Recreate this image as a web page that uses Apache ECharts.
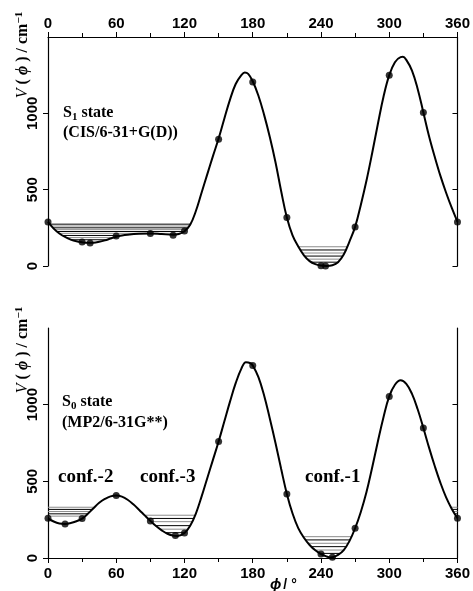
<!DOCTYPE html>
<html><head><meta charset="utf-8">
<script src="https://cdn.jsdelivr.net/npm/echarts@6/dist/echarts.min.js"></script>
<style>html,body{margin:0;padding:0;background:#fff}#c{width:473px;height:591px}</style>
</head><body><div id="c"></div>
<script>
// ---------- data ----------
const phiTicks = [0, 60, 120, 180, 240, 300, 360];
const energyTicks = [0, 500, 1000];

// S1 state: computed points
const s1Phi = [0, 30, 37, 60, 90, 110, 120, 150, 180, 210, 240, 244, 270, 300, 330, 360];
const s1V   = [289, 158, 150, 196, 213, 202, 230, 830, 1206, 317, 2, 0, 256, 1250, 1006, 289];
// S1 fitted curve
const s1CurvePhi = [0,5,10,15,20,25,30,35,40,45,50,55,60,65,70,80,90,100,110,115,120,125,130,135,140,145,150,155,160,165,170,173,176,180,185,190,195,200,205,210,215,220,225,230,235,240,245,250,255,260,265,270,275,280,285,290,295,300,305,310,312,315,320,325,330,335,340,345,350,355,360];
const s1CurveV   = [289,245,213,190,173,162,156,152,153,159,168,180,192,200,205,211,213,209,205,210,228,270,360,480,600,720,835,965,1090,1192,1250,1267,1258,1210,1115,990,845,680,490,317,200,128,70,32,12,3,0,5,25,75,160,256,400,560,740,930,1110,1250,1335,1368,1370,1350,1280,1160,1006,850,715,590,480,380,289];
// S1 torsional levels
const s1WellAV    = [274, 262, 250, 238, 226, 214, 200, 186, 172];
const s1WellAFrom = [1.6, 3, 4.4, 6.1, 8, 9.9, 13, 16.2, 20];
const s1WellATo   = [125.4, 124, 122.6, 121.2, 119.5, 116, 65, 57.3, 50.9];
const s1WellBV    = [126, 105, 85, 65, 45, 25];
const s1WellBFrom = [220.1, 222, 223.7, 225.7, 228.3, 231.8];
const s1WellBTo   = [263, 261.8, 260.6, 259, 257, 255];

// S0 state: computed points
const s0Phi = [0, 15, 30, 60, 90, 112, 120, 150, 180, 210, 240, 250, 270, 300, 330, 360];
const s0V   = [259, 222, 257, 407, 242, 146, 163, 760, 1255, 418, 26, 5, 194, 1054, 848, 259];
// S0 fitted curve
const s0CurvePhi = [0,5,10,15,20,25,30,35,40,45,50,55,60,65,70,75,80,85,90,95,100,105,110,114,120,125,130,135,140,145,150,155,160,165,170,174,178,180,185,190,195,200,205,210,215,220,225,230,235,240,245,248,250,255,260,265,270,275,280,285,290,295,300,305,310,315,320,325,330,335,340,345,350,355,360];
const s0CurveV   = [259,238,225,222,228,240,257,288,325,360,385,402,407,400,380,350,315,278,242,208,180,158,146,144,163,210,290,400,520,640,760,890,1020,1140,1235,1277,1270,1255,1180,1060,910,750,580,418,290,195,132,85,50,26,10,4,5,20,52,110,194,300,430,590,760,920,1054,1130,1159,1135,1070,970,848,720,600,490,395,320,259];
// S0 torsional levels
const s0Conf2V     = [331, 317, 303, 288, 273];
const s0Conf2To    = [40.9, 38.9, 37, 35, 32.8];
const s0Conf2WrapFrom = [354.3, 355.2, 356.4, 357.6, 358.9];
const s0Conf3V     = [279, 258, 237, 211, 188, 165];
const s0Conf3From  = [85, 87.8, 90.7, 94.6, 98.6, 103.4];
const s0Conf3To    = [129.3, 128, 126.7, 125.1, 122.7, 120.2];
const s0Conf1V     = [139, 118, 96, 74, 52, 30];
const s0Conf1From  = [224.4, 226.5, 228.8, 231.6, 234.7, 238.3];
const s0Conf1To    = [266.7, 265.5, 263.8, 261.9, 260, 256.7];

// ---------- chart ----------
const SANS = '"Liberation Sans", Arial, sans-serif';
const SERIF = '"Liberation Serif", "Times New Roman", serif';
const BLACK = '#000';
const GREY = '#8c8c8c';

function zip(a, b) { return a.map((v, i) => [v, b[i]]); }

function levelSeries(gi, vals, from, to, startBlack) {
  return vals.map((v, i) => ({
    type: 'line', xAxisIndex: gi, yAxisIndex: gi * 2, silent: true, z: 1,
    symbol: 'none', animation: false,
    lineStyle: { width: 1, color: ((i % 2 === 0) === startBlack) ? BLACK : GREY },
    data: [[from[i], v], [to[i], v]]
  }));
}

function xAxis(gi, pos, margin) {
  return {
    type: 'value', gridIndex: gi, position: pos, min: 0, max: 360, interval: 60,
    axisLine: { show: true, onZero: false, lineStyle: { color: BLACK, width: 1.2 } },
    axisTick: { show: true, inside: false, length: 5, lineStyle: { color: BLACK } },
    minorTick: { show: true, splitNumber: 2, length: 4, lineStyle: { color: BLACK } },
    splitLine: { show: false }, minorSplitLine: { show: false },
    axisLabel: { show: true, margin: margin, color: BLACK, fontFamily: SANS, fontWeight: 'bold', fontSize: 15,
      customValues: phiTicks, formatter: v => String(v) }
  };
}
function yAxisLeft(gi) {
  return {
    type: 'value', gridIndex: gi, position: 'left', min: 0, max: 1500, interval: 500,
    axisLine: { show: true, onZero: false, lineStyle: { color: BLACK, width: 1.2 } },
    axisTick: { show: true, inside: false, length: 5, customValues: energyTicks, lineStyle: { color: BLACK } },
    splitLine: { show: false },
    axisLabel: { show: true, rotate: 90, margin: 8, color: BLACK, fontFamily: SANS, fontWeight: 'bold', fontSize: 15,
      customValues: energyTicks, formatter: v => String(v) }
  };
}
function yAxisRight(gi) {
  return {
    type: 'value', gridIndex: gi, position: 'right', min: 0, max: 1500, interval: 500,
    axisLine: { show: true, onZero: false, lineStyle: { color: BLACK, width: 1.2 } },
    axisTick: { show: true, inside: true, length: 5, customValues: energyTicks, lineStyle: { color: BLACK } },
    splitLine: { show: false }, axisLabel: { show: false }
  };
}

const nameRich = {
  v:   { fontFamily: SERIF, fontStyle: 'italic', fontSize: 16, lineHeight: 18, fill: BLACK, color: BLACK },
  n:   { fontFamily: SERIF, fontWeight: 'bold', fontSize: 16, lineHeight: 18, fill: BLACK, color: BLACK },
  phi: { fontFamily: SERIF, fontWeight: 'bold', fontStyle: 'italic', fontSize: 16, lineHeight: 18, fill: BLACK, color: BLACK },
  sup: { fontFamily: SERIF, fontWeight: 'bold', fontSize: 11, lineHeight: 10, padding: [0, 0, 8, 0], fill: BLACK, color: BLACK }
};
const stateRich = {
  b:   { fontFamily: SERIF, fontWeight: 'bold', fontSize: 16, lineHeight: 20, fill: BLACK, color: BLACK },
  sub: { fontFamily: SERIF, fontWeight: 'bold', fontSize: 11, lineHeight: 12, padding: [8, 0, 0, 0], fill: BLACK, color: BLACK }
};

function yName(x, y) {
  return { type: 'text', x: x, y: y, rotation: Math.PI / 2, z: 10,
    style: { text: '{v|V}{n| ( }{phi|ϕ}{n| ) / cm}{sup|−1}', rich: nameRich,
      align: 'center', verticalAlign: 'middle', textAlign: 'center', textVerticalAlign: 'middle', fill: BLACK } };
}
function plainText(x, y, text, size, family) {
  return { type: 'text', x: x, y: y, z: 10,
    style: { text: text, fill: BLACK, font: 'bold ' + size + 'px ' + family,
      align: 'left', verticalAlign: 'middle', textAlign: 'left', textVerticalAlign: 'middle' } };
}
function richText(x, y, text) {
  return { type: 'text', x: x, y: y, z: 10,
    style: { text: text, rich: stateRich, fill: BLACK,
      align: 'left', verticalAlign: 'middle', textAlign: 'left', textVerticalAlign: 'middle' } };
}

const series = [].concat(
  levelSeries(0, s1WellAV, s1WellAFrom, s1WellATo, true),
  levelSeries(0, s1WellBV, s1WellBFrom, s1WellBTo, false),
  levelSeries(1, s0Conf2V, s0Conf2V.map(() => 0), s0Conf2To, false),
  levelSeries(1, s0Conf2V, s0Conf2WrapFrom, s0Conf2V.map(() => 360), false),
  levelSeries(1, s0Conf3V, s0Conf3From, s0Conf3To, false),
  levelSeries(1, s0Conf1V, s0Conf1From, s0Conf1To, false),
  [
    { type: 'line', xAxisIndex: 0, yAxisIndex: 0, data: zip(s1CurvePhi, s1CurveV), smooth: 0.4,
      symbol: 'none', z: 3, lineStyle: { color: BLACK, width: 2 } },
    { type: 'scatter', xAxisIndex: 0, yAxisIndex: 0, data: zip(s1Phi, s1V), symbolSize: 7, z: 5,
      itemStyle: { color: BLACK } },
    { type: 'line', xAxisIndex: 1, yAxisIndex: 2, data: zip(s0CurvePhi, s0CurveV), smooth: 0.4,
      symbol: 'none', z: 3, lineStyle: { color: BLACK, width: 2 } },
    { type: 'scatter', xAxisIndex: 1, yAxisIndex: 2, data: zip(s0Phi, s0V), symbolSize: 7, z: 5,
      itemStyle: { color: BLACK } }
  ]
);

const chart = echarts.init(document.getElementById('c'), null, { renderer: 'canvas' });
chart.setOption({
  animation: false,
  backgroundColor: '#fff',
  grid: [
    { left: 48, right: 14, top: 37, height: 229 },
    { left: 48, right: 14, top: 328, height: 230 }
  ],
  xAxis: [xAxis(0, 'top', 6), xAxis(1, 'bottom', 8)],
  yAxis: [yAxisLeft(0), yAxisRight(0), yAxisLeft(1), yAxisRight(1)],
  series: series,
  graphic: [
    yName(23, 55),
    yName(23, 350),
    richText(63, 113, '{b|S}{sub|1}{b| state}'),
    plainText(63, 133, '(CIS/6-31+G(D))', 16, SERIF),
    richText(62, 402, '{b|S}{sub|0}{b| state}'),
    plainText(62, 423, '(MP2/6-31G**)', 16, SERIF),
    plainText(58, 477, 'conf.-2', 19, SERIF),
    plainText(140, 477, 'conf.-3', 19, SERIF),
    plainText(305, 477, 'conf.-1', 19, SERIF),
    { type: 'text', x: 270, y: 585, z: 10,
      style: { text: '{p|ϕ}{s|/ °}', fill: BLACK, align: 'left', verticalAlign: 'middle', textAlign: 'left', textVerticalAlign: 'middle',
        rich: { p: { fontFamily: SANS, fontWeight: 'bold', fontStyle: 'italic', fontSize: 15, fill: BLACK, color: BLACK },
                s: { fontFamily: SANS, fontWeight: 'bold', fontSize: 14, fill: BLACK, color: BLACK, padding: [0, 0, 0, 2] } } } }
  ]
});
</script></body></html>
